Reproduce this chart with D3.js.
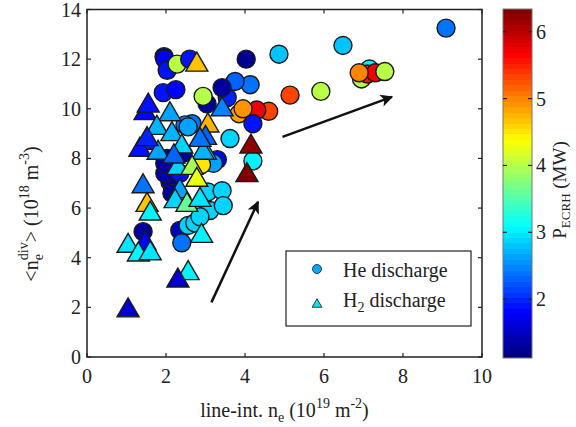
<!DOCTYPE html>
<html><head><meta charset="utf-8">
<script src="https://cdn.jsdelivr.net/npm/d3@7"></script>
<style>body{margin:0;background:#fff}svg{display:block}text{font-family:"Liberation Serif","DejaVu Serif",serif;fill:#222}</style>
</head><body><svg id="c" width="576" height="427"></svg>
<script>
// He discharge: [line-int ne, <ne_div>, P_ECRH]
const heX = [7.15,9.09,6.48,4.86,4.03,6.95,7.1,7.3,6.89,7.54,5.92,5.14,4.6,4.3,3.85,3.95,4.2,3.62,4.2,4.13,3.75,3.55,3.42,3.04,2.94,2.66,3.3,3.2,2.9,
  1.95,1.97,2.03,2.28,2.6,1.93,2.25,2.48,2.56,2.03,2.43,2.1,1.97,1.97,2.35,2.15,
  1.42,2.35,2.4,2.56,2.73,3.11,3.06,3.42,3.45,2.86];
const heY = [11.6,13.25,12.55,12.2,12.0,11.2,11.4,11.45,11.45,11.5,10.7,10.55,9.9,9.95,9.8,10.0,9.4,8.8,7.9,10.97,11.1,10.45,10.85,10.2,10.5,9.4,7.95,7.8,7.75,
  12.1,12.0,11.55,11.8,12.0,10.65,10.77,9.35,9.27,8.0,8.2,7.05,7.4,7.8,7.4,6.6,
  5.05,5.1,4.6,5.3,5.4,5.9,6.65,6.7,6.1,5.65];
const heP = [3.0,2.35,2.8,2.8,1.25,4.0,5.6,5.7,5.0,4.0,4.0,5.35,5.35,5.7,4.8,4.9,1.9,2.9,3.05,2.35,2.3,2.0,1.3,1.3,4.05,2.4,1.8,2.6,4.5,
  1.5,1.8,1.9,4.0,1.9,1.9,1.8,2.4,2.6,1.3,1.3,1.3,1.4,1.35,1.9,1.3,
  1.3,1.5,2.35,2.85,2.85,2.85,2.85,2.85,2.85,2.85];
// H2 discharge
const h2X = [2.78,1.47,1.55,2.1,1.77,3.42,3.06,3.0,3.0,2.15,1.55,1.34,1.8,2.94,2.86,1.52,
  2.3,2.66,2.78,2.35,2.23,2.53,2.86,1.42,1.52,1.6,1.04,1.47,1.3,1.6,2.9,2.56,2.3,1.04,4.15,4.05,2.4,2.2];
const h2Y = [11.9,9.95,10.25,9.9,9.35,10.1,9.45,8.95,8.35,9.1,8.75,8.47,8.35,8.35,8.87,8.9,
  7.74,7.74,7.26,6.8,6.4,6.25,6.45,7.0,6.25,5.9,4.6,4.7,4.25,4.3,5.0,3.5,3.2,2.0,8.6,7.45,8.6,8.2];
const h2P = [4.65,1.8,1.9,2.6,2.7,2.5,4.75,2.3,2.8,2.75,2.0,1.9,2.6,2.7,2.4,2.0,
  2.9,3.9,4.3,2.6,2.9,3.6,2.95,2.4,4.7,3.0,2.95,1.8,3.0,2.95,3.0,3.0,1.6,1.6,6.25,6.3,2.9,2.3];
// annotation arrows [x0,y0,x1,y1]
const arrows = [[3.15,2.2,4.33,6.25],[4.95,8.87,7.72,10.48]];
const xTicks = [0,2,4,6,8,10];
const yTicks = [0,2,4,6,8,10,12,14];
const cTicks = [2,3,4,5,6];
const cDomain = [1.12,6.34];
const legendLabels = ["He discharge","H2 discharge"];

function jet(t){
  const c=v=>Math.max(0,Math.min(1,v));
  const r=c(1.5-Math.abs(4*t-3)), g=c(1.5-Math.abs(4*t-2)), b=c(1.5-Math.abs(4*t-1));
  return d3.rgb(r*255,g*255,b*255).formatHex();
}
const svg=d3.select("#c");
const L=87,R=482,T=9.5,B=357;
const x=d3.scaleLinear().domain([0,10]).range([L,R]);
const y=d3.scaleLinear().domain([0,14]).range([B,T]);
const cnorm=d3.scaleLinear().domain(cDomain).range([0,1]).clamp(true);
const col=p=>jet(Math.floor(cnorm(p)*63.999)/63);

// defs
const defs=svg.append("defs");
defs.append("clipPath").attr("id","pc").append("rect").attr("x",L).attr("y",T).attr("width",R-L).attr("height",B-T);
defs.append("marker").attr("id","ah").attr("viewBox","0 0 10 10").attr("refX",9).attr("refY",5)
  .attr("markerWidth",7).attr("markerHeight",5).attr("markerUnits","strokeWidth").attr("orient","auto")
  .append("path").attr("d","M0,0L10,5L0,10L2.5,5Z").attr("fill","#111");

svg.append("rect").attr("x",L).attr("y",T).attr("width",R-L).attr("height",B-T).attr("fill","#fff");

const g=svg.append("g").attr("clip-path","url(#pc)");
const tri=(s)=>`M0,${-s*0.95}L${s*1.1},${s*0.95}L${-s*1.1},${s*0.95}Z`;
heX.forEach((v,i)=>{
  g.append("circle").attr("cx",x(v)).attr("cy",y(heY[i])).attr("r",9)
   .attr("fill",col(heP[i])).attr("stroke","#1a1a1a").attr("stroke-width",1.4);
});
h2X.forEach((v,i)=>{
  g.append("path").attr("d",tri(10)).attr("transform",`translate(${x(v)},${y(h2Y[i])})`)
   .attr("fill",col(h2P[i])).attr("stroke","#1a1a1a").attr("stroke-width",1.4).attr("stroke-linejoin","miter");
});
arrows.forEach(a=>{
  svg.append("line").attr("x1",x(a[0])).attr("y1",y(a[1])).attr("x2",x(a[2])).attr("y2",y(a[3]))
   .attr("stroke","#111").attr("stroke-width",2.5).attr("marker-end","url(#ah)");
});

svg.append("rect").attr("x",L).attr("y",T).attr("width",R-L).attr("height",B-T).attr("fill","none").attr("stroke","#222").attr("stroke-width",1.5);
const tk=svg.append("g").attr("stroke","#222").attr("stroke-width",1.2);
xTicks.forEach(t=>{tk.append("line").attr("x1",x(t)).attr("x2",x(t)).attr("y1",B).attr("y2",B-4);
  tk.append("line").attr("x1",x(t)).attr("x2",x(t)).attr("y1",T).attr("y2",T+4);});
yTicks.forEach(t=>{tk.append("line").attr("x1",L).attr("x2",L+4).attr("y1",y(t)).attr("y2",y(t));
  tk.append("line").attr("x1",R).attr("x2",R-4).attr("y1",y(t)).attr("y2",y(t));});
xTicks.forEach(t=>svg.append("text").attr("x",x(t)).attr("y",383).attr("text-anchor","middle").attr("font-size",20).text(t));
yTicks.forEach(t=>svg.append("text").attr("x",81).attr("y",y(t)+7).attr("text-anchor","end").attr("font-size",20).text(t));

const xl=svg.append("text").attr("x",(L+R)/2).attr("y",417).attr("text-anchor","middle").attr("font-size",20);
xl.append("tspan").text("line-int. n");
xl.append("tspan").attr("font-size",14).attr("dy",5).text("e");
xl.append("tspan").attr("dy",-5).text(" (10");
xl.append("tspan").attr("font-size",14).attr("dy",-9).text("19");
xl.append("tspan").attr("dy",9).text(" m");
xl.append("tspan").attr("font-size",14).attr("dy",-9).text("-2");
xl.append("tspan").attr("dy",9).text(")");

const yl=svg.append("text").attr("transform","translate(38,214) rotate(-90)").attr("text-anchor","middle").attr("font-size",20);
yl.append("tspan").text("<n");
yl.append("tspan").attr("font-size",14).attr("dy",5).text("e");
yl.append("tspan").attr("font-size",14).attr("dx",-6).attr("dy",-15).text("div");
yl.append("tspan").attr("dy",10).text("> (10");
yl.append("tspan").attr("font-size",14).attr("dy",-9).text("18");
yl.append("tspan").attr("dy",9).text(" m");
yl.append("tspan").attr("font-size",14).attr("dy",-9).text("-3");
yl.append("tspan").attr("dy",9).text(")");

const lg=svg.append("g");
lg.append("rect").attr("x",286).attr("y",251).attr("width",185).attr("height",75).attr("fill","#fff").attr("stroke","#222").attr("stroke-width",1.2);
lg.append("circle").attr("cx",317).attr("cy",269).attr("r",4.5).attr("fill","#08a8ff").attr("stroke","#1a1a1a").attr("stroke-width",0.8);
lg.append("path").attr("d",tri(4.5)).attr("transform","translate(317,303)").attr("fill","#10e0ee").attr("stroke","#1a1a1a").attr("stroke-width",0.8);
lg.append("text").attr("x",343).attr("y",277).attr("font-size",20).text(legendLabels[0]);
const l2=lg.append("text").attr("x",343).attr("y",307).attr("font-size",20);
l2.append("tspan").text("H");
l2.append("tspan").attr("font-size",14).attr("dy",5).text("2");
l2.append("tspan").attr("dy",-5).text(" discharge");

const cx0=503,cx1=532,cy0=9,cy1=358;
const cy=d3.scaleLinear().domain(cDomain).range([cy1,cy0]);
const grad=defs.append("linearGradient").attr("id","cg").attr("x1",0).attr("x2",0).attr("y1",1).attr("y2",0);
for(let i=0;i<64;i++){
  grad.append("stop").attr("offset",i/64).attr("stop-color",jet(i/63));
  grad.append("stop").attr("offset",(i+1)/64).attr("stop-color",jet(i/63));
}
svg.append("rect").attr("x",cx0).attr("y",cy0).attr("width",cx1-cx0).attr("height",cy1-cy0).attr("fill","url(#cg)").attr("stroke","#777").attr("stroke-width",1);
cTicks.forEach(t=>{
  svg.append("line").attr("x1",cx1).attr("x2",cx1-4).attr("y1",cy(t)).attr("y2",cy(t)).attr("stroke","#222").attr("stroke-width",1.2);
  svg.append("line").attr("x1",cx0).attr("x2",cx0+4).attr("y1",cy(t)).attr("y2",cy(t)).attr("stroke","#222").attr("stroke-width",1.2);
  svg.append("text").attr("x",536).attr("y",cy(t)+7).attr("font-size",20).text(t);
});
const cl=svg.append("text").attr("transform","translate(566,190) rotate(-90)").attr("text-anchor","middle").attr("font-size",19);
cl.append("tspan").text("P");
cl.append("tspan").attr("font-size",13).attr("dy",4).text("ECRH");
cl.append("tspan").attr("dy",-4).text(" (MW)");
</script></body></html>
